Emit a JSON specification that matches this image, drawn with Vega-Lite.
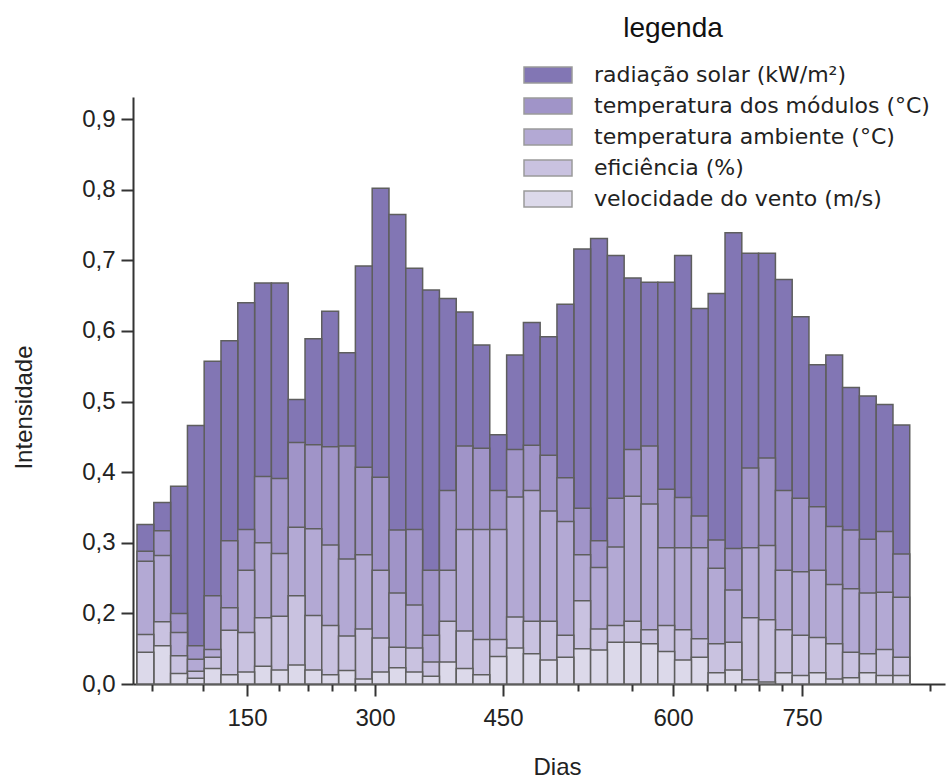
{
  "$schema": "https://vega.github.io/schema/vega-lite/v6.json",
  "width": 812,
  "height": 587,
  "autosize": "none",
  "padding": {"left": 133, "top": 97, "right": 3, "bottom": 94},
  "background": "white",
  "config": {"view": {"stroke": null}, "font": "Liberation Sans"},
  "title": {"text": "legenda", "fontSize": 28, "font": "Liberation Sans", "fontWeight": "normal", "color": "#111", "anchor": "middle", "frame": "group", "dx": 134, "dy": 20, "offset": 17, "baseline": "alphabetic"},
  "data": {"values": [
    {"ini": 21.1, "fim": 40.8, "radiação solar (kW/m²)": 0.326, "temperatura dos módulos (°C)": 0.288, "temperatura ambiente (°C)": 0.274, "eficiência (%)": 0.170, "velocidade do vento (m/s)": 0.145},
    {"ini": 40.8, "fim": 60.5, "radiação solar (kW/m²)": 0.357, "temperatura dos módulos (°C)": 0.317, "temperatura ambiente (°C)": 0.282, "eficiência (%)": 0.188, "velocidade do vento (m/s)": 0.154},
    {"ini": 60.5, "fim": 80.2, "radiação solar (kW/m²)": 0.380, "temperatura dos módulos (°C)": 0.200, "temperatura ambiente (°C)": 0.173, "eficiência (%)": 0.140, "velocidade do vento (m/s)": 0.115},
    {"ini": 80.2, "fim": 99.8, "radiação solar (kW/m²)": 0.466, "temperatura dos módulos (°C)": 0.154, "temperatura ambiente (°C)": 0.135, "eficiência (%)": 0.118, "velocidade do vento (m/s)": 0.108},
    {"ini": 99.8, "fim": 119.5, "radiação solar (kW/m²)": 0.557, "temperatura dos módulos (°C)": 0.225, "temperatura ambiente (°C)": 0.149, "eficiência (%)": 0.138, "velocidade do vento (m/s)": 0.122},
    {"ini": 119.5, "fim": 139.2, "radiação solar (kW/m²)": 0.586, "temperatura dos módulos (°C)": 0.303, "temperatura ambiente (°C)": 0.208, "eficiência (%)": 0.176, "velocidade do vento (m/s)": 0.113},
    {"ini": 139.2, "fim": 158.9, "radiação solar (kW/m²)": 0.640, "temperatura dos módulos (°C)": 0.319, "temperatura ambiente (°C)": 0.261, "eficiência (%)": 0.173, "velocidade do vento (m/s)": 0.117},
    {"ini": 158.9, "fim": 178.6, "radiação solar (kW/m²)": 0.668, "temperatura dos módulos (°C)": 0.394, "temperatura ambiente (°C)": 0.300, "eficiência (%)": 0.194, "velocidade do vento (m/s)": 0.125},
    {"ini": 178.6, "fim": 198.3, "radiação solar (kW/m²)": 0.668, "temperatura dos módulos (°C)": 0.391, "temperatura ambiente (°C)": 0.285, "eficiência (%)": 0.196, "velocidade do vento (m/s)": 0.120},
    {"ini": 198.3, "fim": 218.0, "radiação solar (kW/m²)": 0.503, "temperatura dos módulos (°C)": 0.442, "temperatura ambiente (°C)": 0.322, "eficiência (%)": 0.225, "velocidade do vento (m/s)": 0.127},
    {"ini": 218.0, "fim": 237.6, "radiação solar (kW/m²)": 0.589, "temperatura dos módulos (°C)": 0.439, "temperatura ambiente (°C)": 0.320, "eficiência (%)": 0.197, "velocidade do vento (m/s)": 0.120},
    {"ini": 237.6, "fim": 257.3, "radiação solar (kW/m²)": 0.628, "temperatura dos módulos (°C)": 0.436, "temperatura ambiente (°C)": 0.297, "eficiência (%)": 0.183, "velocidade do vento (m/s)": 0.113},
    {"ini": 257.3, "fim": 277.0, "radiação solar (kW/m²)": 0.569, "temperatura dos módulos (°C)": 0.437, "temperatura ambiente (°C)": 0.277, "eficiência (%)": 0.168, "velocidade do vento (m/s)": 0.119},
    {"ini": 277.0, "fim": 296.7, "radiação solar (kW/m²)": 0.692, "temperatura dos módulos (°C)": 0.407, "temperatura ambiente (°C)": 0.283, "eficiência (%)": 0.178, "velocidade do vento (m/s)": 0.107},
    {"ini": 296.7, "fim": 316.4, "radiação solar (kW/m²)": 0.802, "temperatura dos módulos (°C)": 0.393, "temperatura ambiente (°C)": 0.261, "eficiência (%)": 0.165, "velocidade do vento (m/s)": 0.117},
    {"ini": 316.4, "fim": 336.1, "radiação solar (kW/m²)": 0.765, "temperatura dos módulos (°C)": 0.318, "temperatura ambiente (°C)": 0.229, "eficiência (%)": 0.152, "velocidade do vento (m/s)": 0.123},
    {"ini": 336.1, "fim": 355.8, "radiação solar (kW/m²)": 0.689, "temperatura dos módulos (°C)": 0.319, "temperatura ambiente (°C)": 0.212, "eficiência (%)": 0.151, "velocidade do vento (m/s)": 0.117},
    {"ini": 355.8, "fim": 375.5, "radiação solar (kW/m²)": 0.658, "temperatura dos módulos (°C)": 0.261, "temperatura ambiente (°C)": 0.169, "eficiência (%)": 0.131, "velocidade do vento (m/s)": 0.111},
    {"ini": 375.5, "fim": 395.2, "radiação solar (kW/m²)": 0.646, "temperatura dos módulos (°C)": 0.374, "temperatura ambiente (°C)": 0.261, "eficiência (%)": 0.189, "velocidade do vento (m/s)": 0.131},
    {"ini": 395.2, "fim": 414.8, "radiação solar (kW/m²)": 0.627, "temperatura dos módulos (°C)": 0.437, "temperatura ambiente (°C)": 0.319, "eficiência (%)": 0.175, "velocidade do vento (m/s)": 0.122},
    {"ini": 414.8, "fim": 434.5, "radiação solar (kW/m²)": 0.580, "temperatura dos módulos (°C)": 0.434, "temperatura ambiente (°C)": 0.319, "eficiência (%)": 0.163, "velocidade do vento (m/s)": 0.113},
    {"ini": 434.5, "fim": 453.2, "radiação solar (kW/m²)": 0.453, "temperatura dos módulos (°C)": 0.374, "temperatura ambiente (°C)": 0.319, "eficiência (%)": 0.163, "velocidade do vento (m/s)": 0.139},
    {"ini": 453.2, "fim": 468.0, "radiação solar (kW/m²)": 0.566, "temperatura dos módulos (°C)": 0.432, "temperatura ambiente (°C)": 0.365, "eficiência (%)": 0.195, "velocidade do vento (m/s)": 0.151},
    {"ini": 468.0, "fim": 482.8, "radiação solar (kW/m²)": 0.612, "temperatura dos módulos (°C)": 0.438, "temperatura ambiente (°C)": 0.374, "eficiência (%)": 0.189, "velocidade do vento (m/s)": 0.143},
    {"ini": 482.8, "fim": 497.6, "radiação solar (kW/m²)": 0.592, "temperatura dos módulos (°C)": 0.424, "temperatura ambiente (°C)": 0.345, "eficiência (%)": 0.189, "velocidade do vento (m/s)": 0.134},
    {"ini": 497.6, "fim": 512.5, "radiação solar (kW/m²)": 0.638, "temperatura dos módulos (°C)": 0.392, "temperatura ambiente (°C)": 0.330, "eficiência (%)": 0.169, "velocidade do vento (m/s)": 0.138},
    {"ini": 512.5, "fim": 527.3, "radiação solar (kW/m²)": 0.716, "temperatura dos módulos (°C)": 0.349, "temperatura ambiente (°C)": 0.283, "eficiência (%)": 0.218, "velocidade do vento (m/s)": 0.150},
    {"ini": 527.3, "fim": 542.1, "radiação solar (kW/m²)": 0.731, "temperatura dos módulos (°C)": 0.303, "temperatura ambiente (°C)": 0.265, "eficiência (%)": 0.178, "velocidade do vento (m/s)": 0.148},
    {"ini": 542.1, "fim": 556.9, "radiação solar (kW/m²)": 0.707, "temperatura dos módulos (°C)": 0.363, "temperatura ambiente (°C)": 0.294, "eficiência (%)": 0.183, "velocidade do vento (m/s)": 0.159},
    {"ini": 556.9, "fim": 571.8, "radiação solar (kW/m²)": 0.675, "temperatura dos módulos (°C)": 0.432, "temperatura ambiente (°C)": 0.366, "eficiência (%)": 0.189, "velocidade do vento (m/s)": 0.159},
    {"ini": 571.8, "fim": 586.6, "radiação solar (kW/m²)": 0.669, "temperatura dos módulos (°C)": 0.437, "temperatura ambiente (°C)": 0.355, "eficiência (%)": 0.177, "velocidade do vento (m/s)": 0.157},
    {"ini": 586.6, "fim": 601.9, "radiação solar (kW/m²)": 0.669, "temperatura dos módulos (°C)": 0.376, "temperatura ambiente (°C)": 0.293, "eficiência (%)": 0.183, "velocidade do vento (m/s)": 0.146},
    {"ini": 601.9, "fim": 621.4, "radiação solar (kW/m²)": 0.707, "temperatura dos módulos (°C)": 0.364, "temperatura ambiente (°C)": 0.293, "eficiência (%)": 0.177, "velocidade do vento (m/s)": 0.134},
    {"ini": 621.4, "fim": 640.9, "radiação solar (kW/m²)": 0.632, "temperatura dos módulos (°C)": 0.338, "temperatura ambiente (°C)": 0.293, "eficiência (%)": 0.164, "velocidade do vento (m/s)": 0.138},
    {"ini": 640.9, "fim": 660.5, "radiação solar (kW/m²)": 0.653, "temperatura dos módulos (°C)": 0.304, "temperatura ambiente (°C)": 0.264, "eficiência (%)": 0.157, "velocidade do vento (m/s)": 0.116},
    {"ini": 660.5, "fim": 680.0, "radiação solar (kW/m²)": 0.739, "temperatura dos módulos (°C)": 0.292, "temperatura ambiente (°C)": 0.233, "eficiência (%)": 0.159, "velocidade do vento (m/s)": 0.120},
    {"ini": 680.0, "fim": 699.5, "radiação solar (kW/m²)": 0.710, "temperatura dos módulos (°C)": 0.406, "temperatura ambiente (°C)": 0.293, "eficiência (%)": 0.194, "velocidade do vento (m/s)": 0.106},
    {"ini": 699.5, "fim": 719.1, "radiação solar (kW/m²)": 0.710, "temperatura dos módulos (°C)": 0.420, "temperatura ambiente (°C)": 0.296, "eficiência (%)": 0.191, "velocidade do vento (m/s)": 0.103},
    {"ini": 719.1, "fim": 738.6, "radiação solar (kW/m²)": 0.673, "temperatura dos módulos (°C)": 0.374, "temperatura ambiente (°C)": 0.261, "eficiência (%)": 0.177, "velocidade do vento (m/s)": 0.116},
    {"ini": 738.6, "fim": 758.1, "radiação solar (kW/m²)": 0.620, "temperatura dos módulos (°C)": 0.363, "temperatura ambiente (°C)": 0.259, "eficiência (%)": 0.169, "velocidade do vento (m/s)": 0.112},
    {"ini": 758.1, "fim": 777.7, "radiação solar (kW/m²)": 0.552, "temperatura dos módulos (°C)": 0.351, "temperatura ambiente (°C)": 0.261, "eficiência (%)": 0.166, "velocidade do vento (m/s)": 0.116},
    {"ini": 777.7, "fim": 797.2, "radiação solar (kW/m²)": 0.566, "temperatura dos módulos (°C)": 0.323, "temperatura ambiente (°C)": 0.241, "eficiência (%)": 0.157, "velocidade do vento (m/s)": 0.107},
    {"ini": 797.2, "fim": 816.7, "radiação solar (kW/m²)": 0.520, "temperatura dos módulos (°C)": 0.318, "temperatura ambiente (°C)": 0.235, "eficiência (%)": 0.145, "velocidade do vento (m/s)": 0.109},
    {"ini": 816.7, "fim": 836.3, "radiação solar (kW/m²)": 0.508, "temperatura dos módulos (°C)": 0.305, "temperatura ambiente (°C)": 0.229, "eficiência (%)": 0.143, "velocidade do vento (m/s)": 0.116},
    {"ini": 836.3, "fim": 855.8, "radiação solar (kW/m²)": 0.496, "temperatura dos módulos (°C)": 0.316, "temperatura ambiente (°C)": 0.230, "eficiência (%)": 0.149, "velocidade do vento (m/s)": 0.112},
    {"ini": 855.8, "fim": 875.3, "radiação solar (kW/m²)": 0.467, "temperatura dos módulos (°C)": 0.284, "temperatura ambiente (°C)": 0.223, "eficiência (%)": 0.138, "velocidade do vento (m/s)": 0.112}
  ]},
  "transform": [
    {"fold": ["radiação solar (kW/m²)", "temperatura dos módulos (°C)", "temperatura ambiente (°C)", "eficiência (%)", "velocidade do vento (m/s)"], "as": ["serie", "valor"]}
  ],
  "mark": {"type": "bar", "stroke": "#5e5e5e", "strokeWidth": 1.5},
  "encoding": {
    "x": {
      "field": "ini", "type": "quantitative", "title": "Dias",
      "scale": {"domain": [16.4, 150, 300, 450, 600, 750, 916.3], "range": [0, 114, 242, 370, 540, 669, 812]},
      "axis": {
        "values": [38.7, 98.4, 150, 187.5, 221.5, 249.6, 276.6, 300, 450, 516.2, 563.8, 600, 639.5, 672.1, 700, 726.7, 750, 898.8],
        "format": "d",
        "labelExpr": "indexof([150,300,450,600,750], datum.value) >= 0 ? datum.label : ''",
        "labelOverlap": false,
        "labelFlush": false,
        "tickSize": {"condition": {"test": "indexof([150,300,450,600,750], datum.value) >= 0", "value": 12}, "value": 7},
        "grid": false,
        "domainColor": "#333", "domainWidth": 2,
        "tickColor": "#333", "tickWidth": 2,
        "labelFontSize": 24, "labelColor": "#222", "labelPadding": 10,
        "titleFontSize": 24, "titleFontWeight": "normal", "titleColor": "#222", "titlePadding": 25, "titleX": 424
      }
    },
    "x2": {"field": "fim"},
    "y": {
      "field": "valor", "type": "quantitative", "stack": null, "title": "Intensidade",
      "scale": {"domain": [0.1, 0.9314], "zero": false, "nice": false},
      "axis": {
        "values": [0.1, 0.2, 0.3, 0.4, 0.5, 0.6, 0.7, 0.8, 0.9],
        "labelExpr": "datum.value < 0.15 ? '0,0' : replace(format(datum.value, '.1f'), '.', ',')",
        "grid": false,
        "tickSize": 12,
        "domainColor": "#333", "domainWidth": 2,
        "tickColor": "#333", "tickWidth": 2,
        "labelFontSize": 24, "labelColor": "#222", "labelPadding": 6,
        "titleFontSize": 24, "titleFontWeight": "normal", "titleColor": "#222", "titlePadding": 45, "titleY": 310
      }
    },
    "y2": {"datum": 0.1},
    "color": {
      "field": "serie", "type": "nominal",
      "scale": {
        "domain": ["radiação solar (kW/m²)", "temperatura dos módulos (°C)", "temperatura ambiente (°C)", "eficiência (%)", "velocidade do vento (m/s)"],
        "range": ["#8276b4", "#a094c8", "#b3a9d4", "#c9c2e0", "#dcd9ea"]
      },
      "legend": {
        "orient": "none", "legendX": 402, "legendY": -35, "title": null,
        "symbolType": "M-2,-0.6667H2V0.6667H-2Z", "symbolSize": 576,
        "symbolStrokeColor": "#9a9a9a", "symbolStrokeWidth": 1.5, "symbolOpacity": 1,
        "labelFont": "DejaVu Sans", "labelFontSize": 22, "labelColor": "#222", "labelOffset": 33, "labelLimit": 400,
        "rowPadding": 6, "padding": 0
      }
    },
    "order": {"field": "valor", "sort": "descending"}
  }
}
